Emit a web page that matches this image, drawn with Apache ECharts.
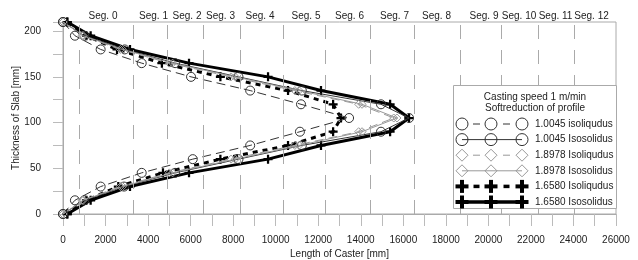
<!DOCTYPE html>
<html><head><meta charset="utf-8">
<script src="https://cdn.jsdelivr.net/npm/echarts@6/dist/echarts.min.js"></script>
<style>html,body{margin:0;padding:0;background:#fff}#c{width:638px;height:260px}</style>
</head><body><div id="c"></div>
<script>
// thickness levels [mm]
const yLevels = [210,195,180,165,150,135,120,105,90,75,60,45,30,15,0];
// caster length [mm] where each isoline crosses the thickness level
const liq10045 = [0,560,1770,3700,6020,8800,11190,13450,11140,8800,6100,3700,1770,560,0];
const sol10045 = [0,1000,2900,5270,8250,11230,14950,16270,14950,11230,8250,5270,2870,1000,0];
const liq18978 = [0,900,2700,5000,7900,10900,13900,15550,13900,10900,7900,5000,2700,900,0];
const sol18978 = [0,950,2800,5150,8100,11100,14060,15700,14060,11100,8100,5150,2800,950,0];
const liq16580 = [200,1100,2540,4650,7400,10580,12700,13070,12700,10580,7400,4700,2600,1100,200];
const sol16580 = [200,1300,3150,5925,9640,12130,15380,16270,15380,12130,9640,5925,3150,1300,200];
// segment boundaries and label centres [mm]
const segBounds = [752,3291,4890,6583,8323,10344,12319,14435,16504,18667,20595,22335,24027];
const segLabels = ['Seg. 0','Seg. 1','Seg. 2','Seg. 3','Seg. 4','Seg. 5','Seg. 6','Seg. 7','Seg. 8','Seg. 9','Seg. 10','Seg. 11','Seg. 12'];
const segLabelX = [1881,4255,5830,7406,9263,11426,13471,15587,17562,19795,21441,23158,24851];
const seriesNames = ['1.0045 isoliqudus','1.0045 Isosolidus','1.8978 Isoliqudus','1.8978 Isosolidus','1.6580 Isoliqudus','1.6580 Isosolidus'];
const legendTitle = ['Casting speed 1 m/min','Softreduction of profile'];

const FONT = "'Liberation Sans', Arial, sans-serif";
const PLUS = 'path://M3,0H5V3H8V5H5V8H3V5H0V3H3Z';
const pts = xs => xs.map((x,i)=>[x,yLevels[i]]);

const styles = [
  {data:liq10045, color:'#333', width:1, type:[9,5], symbol:'circle', size:9, sym:'circle'},
  {data:sol10045, color:'#333', width:1, type:'solid', symbol:'circle', size:9, sym:'circle'},
  {data:liq18978, color:'#999', width:1, type:[9,5], symbol:'diamond', size:8, sym:'diamond'},
  {data:sol18978, color:'#999', width:1, type:'solid', symbol:'diamond', size:8, sym:'diamond'},
  {data:liq16580, color:'#000', width:3, type:[5,5], symbol:PLUS, size:9, sym:'plus'},
  {data:sol16580, color:'#000', width:3, type:'solid', symbol:PLUS, size:9, sym:'plus'}
];

const series = styles.map((s,i)=>{
  const isPlus = s.sym==='plus';
  return {
    name: seriesNames[i], type:'line', data: pts(s.data),
    symbol: s.symbol, symbolSize: s.size, showAllSymbol:true,
    lineStyle:{color:s.color, width:s.width, type:s.type},
    itemStyle: isPlus ? {color:'#000', borderWidth:0} : {color:'rgba(0,0,0,0)', borderColor:s.color, borderWidth:1},
    z: isPlus ? 3 : 4, clip:false, animation:false
  };
});
series.push({
  type:'line', data:[], silent:true, animation:false,
  markLine:{symbol:'none', silent:true, animation:false, label:{show:false},
    lineStyle:{color:'#aaa', width:1, type:[14,11]},
    data: segBounds.map(v=>({xAxis:v}))}
});

const chart = echarts.init(document.getElementById('c'), null, {renderer:'canvas'});
chart.setOption({
  animation:false,
  backgroundColor:'#fff',
  grid:{left:63, right:22, top:22, bottom:46, show:true, borderColor:'#aaa', borderWidth:1,
    containLabel:false, outerBoundsMode:'none'},
  xAxis:{type:'value', min:0, max:26000, interval:2000,
    name:'Length of Caster [mm]', nameLocation:'middle', nameGap:35, nameMoveOverlap:false,
    nameTextStyle:{fontFamily:FONT, fontSize:10, color:'#222'},
    axisLine:{show:true, lineStyle:{color:'#aaa'}},
    axisTick:{show:true, length:12, lineStyle:{color:'#bbb'}},
    minorTick:{show:true, splitNumber:2, length:12, lineStyle:{color:'#bbb'}},
    axisLabel:{fontFamily:FONT, fontSize:10, color:'#222', margin:21, formatter: v => String(v)},
    splitLine:{show:false}},
  yAxis:{type:'value', min:0, max:210, interval:50,
    name:'Thickness of Slab [mm]', nameLocation:'middle', nameGap:42, nameRotate:90, nameMoveOverlap:false,
    nameTextStyle:{fontFamily:FONT, fontSize:10, color:'#222'},
    axisLine:{show:true, lineStyle:{color:'#aaa'}},
    axisTick:{show:true, length:10, lineStyle:{color:'#bbb'}},
    minorTick:{show:true, splitNumber:2, length:10, lineStyle:{color:'#bbb'}},
    axisLabel:{fontFamily:FONT, fontSize:10, color:'#222', margin:22, showMaxLabel:false,
      formatter: v => String(v)},
    splitLine:{show:false}},
  series: series
});

// segment labels above the plot
const g = [];
segLabels.forEach((t,i)=>{
  const p = chart.convertToPixel({gridIndex:0},[segLabelX[i],210]);
  g.push({type:'text', x:p[0], y:16, style:{text:t, fontFamily:FONT, fontSize:10, fill:'#222', align:'center', verticalAlign:'middle'}, z:10});
});

// legend box
const LX=453, LY=85, LW=163, LH=123;
g.push({type:'rect', shape:{x:LX+0.5,y:LY+0.5,width:LW,height:LH}, style:{fill:'#fff', stroke:'#aaa', lineWidth:1}, z:20});
legendTitle.forEach((t,i)=>{
  g.push({type:'text', x:535, y:97+i*11.5, style:{text:t, fontFamily:FONT, fontSize:10, fill:'#222', align:'center', verticalAlign:'middle'}, z:21});
});
const mx=[462,491,522];
styles.forEach((s,i)=>{
  const cy = 124 + i*15.6;
  const lineW = s.sym==='plus' ? 3.5 : 1;
  if (s.type==='solid') {
    g.push({type:'line', shape:{x1:mx[0],y1:cy,x2:mx[2],y2:cy}, style:{stroke:s.color, lineWidth:lineW}, z:21});
  } else {
    for (let k=0;k<2;k++){
      const c=(mx[k]+mx[k+1])/2;
      const h = s.sym==='plus' ? 3 : 3.5;
      g.push({type:'line', shape:{x1:c-h,y1:cy,x2:c+h,y2:cy}, style:{stroke:s.color, lineWidth:lineW}, z:21});
    }
  }
  mx.forEach(x=>{
    if (s.sym==='circle') g.push({type:'circle', shape:{cx:x,cy:cy,r:6}, style:{fill:'rgba(0,0,0,0)', stroke:s.color, lineWidth:1}, z:22});
    else if (s.sym==='diamond') g.push({type:'polygon', shape:{points:[[x-6,cy],[x,cy-6],[x+6,cy],[x,cy+6]]}, style:{fill:'rgba(0,0,0,0)', stroke:s.color, lineWidth:1}, z:22});
    else {
      g.push({type:'rect', shape:{x:x-6.5,y:cy-2,width:13,height:4}, style:{fill:'#000'}, z:22});
      g.push({type:'rect', shape:{x:x-2,y:cy-6.5,width:4,height:13}, style:{fill:'#000'}, z:22});
    }
  });
  g.push({type:'text', x:535, y:cy, style:{text:seriesNames[i], fontFamily:FONT, fontSize:10, fill:'#222', align:'left', verticalAlign:'middle'}, z:21});
});
chart.setOption({graphic:g});
</script>
</body></html>
